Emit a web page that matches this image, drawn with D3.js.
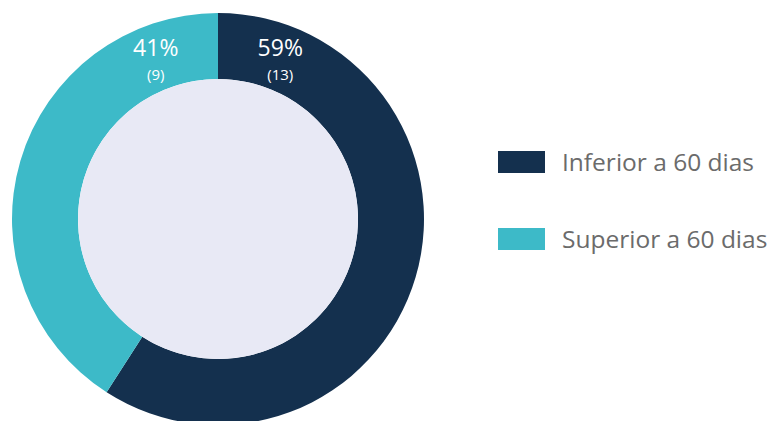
<!DOCTYPE html>
<html><head><meta charset="utf-8">
<script src="https://cdn.jsdelivr.net/npm/d3@7/dist/d3.min.js"></script>
<style>body{margin:0;background:#fff}svg{display:block}</style>
</head><body>
<svg id="c" width="768" height="421"></svg>
<script>
const categories = ["Inferior a 60 dias", "Superior a 60 dias"];
const counts = [13, 9];
const percents = ["59%", "41%"];
const colors = ["#14304e", "#3dbac8"];

const svg = d3.select("#c");
const cx = 218, cy = 219, rOuter = 206, rInner = 140;
const g = svg.append("g").attr("transform", `translate(${cx},${cy})`);
const pie = d3.pie().sort(null).value(d => d)(counts);
const arc = d3.arc().innerRadius(rInner).outerRadius(rOuter);
g.selectAll("path.s").data(pie).join("path").attr("class","s")
  .attr("d", arc).attr("fill", (d,i) => colors[i]);
g.append("circle").attr("r", rInner).attr("fill", "#e8e9f5");

const off = 20 * Math.PI / 180;
pie.forEach((d, i) => {
  const a = i === 0 ? d.startAngle + off : d.endAngle - off;
  const r = 182;
  const x = Math.sin(a) * r, y = -Math.cos(a) * r;
  g.append("text").attr("x", x).attr("y", y + 8).attr("text-anchor", "middle")
    .attr("font-family", "Open Sans, sans-serif").attr("font-size", 23).attr("fill", "#fff")
    .text(percents[i]);
  g.append("text").attr("x", x).attr("y", y + 32).attr("text-anchor", "middle")
    .attr("font-family", "Open Sans, sans-serif").attr("font-size", 15).attr("fill", "#fff")
    .text("(" + counts[i] + ")");
});

const leg = svg.append("g").attr("transform", "translate(498,151)");
categories.forEach((c, i) => {
  const y = i * 77;
  leg.append("rect").attr("x", 0).attr("y", y).attr("width", 47).attr("height", 22).attr("fill", colors[i]);
  leg.append("text").attr("x", 64).attr("y", y + 20)
    .attr("font-family", "Open Sans, sans-serif").attr("font-size", 24.5).attr("fill", "#6b6b6b")
    .text(c);
});
</script>
</body></html>
